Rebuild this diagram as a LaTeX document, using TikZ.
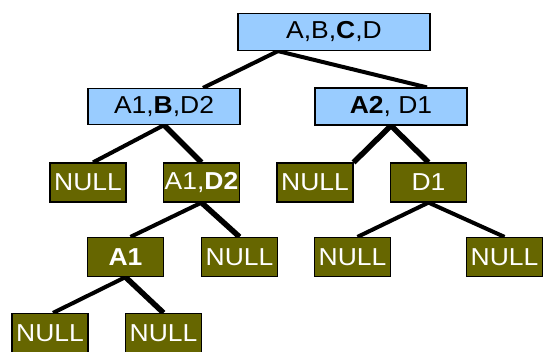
\documentclass[tikz,border=0pt]{standalone}
\usepackage{fontspec}
\setmainfont{Liberation Sans}[FakeStretch=1.08]
\usetikzlibrary{positioning}
\definecolor{boxblue}{HTML}{99CCFF}
\definecolor{boxolive}{HTML}{666600}
\pgfdeclarelayer{bg}
\pgfsetlayers{bg,main}
\tikzset{
  bluebox/.style={draw=black, line width=1.2pt, fill=boxblue, minimum width=#1, minimum height=36pt, inner sep=0pt, font=\fontsize{24.5}{27}\selectfont},
  olivebox/.style={draw=black, line width=1.2pt, fill=boxolive, text=white, minimum width=76pt, minimum height=39pt, inner sep=0pt, font=\fontsize{24.5}{27}\selectfont},
  edge/.style={line width=4pt, black},
  thickedge/.style={line width=5.5pt, black}
}
\begin{document}
\begin{tikzpicture}[x=1pt, y=-1pt]
\useasboundingbox (0,0) rectangle (544,352);
% level 1
\node[bluebox=192pt, minimum height=37pt] (root) at (334,32) {A,B,\textbf{C},D};
% level 2
\node[bluebox=152pt, minimum height=36pt] (L1) at (164,106.5) {A1,\textbf{B},D2};
\node[bluebox=152pt, minimum height=37pt] (R1) at (391,106.5) {\textbf{A2}, D1};
% level 3
\node[olivebox] (N3a) at (88,182.5) {NULL};
\node[olivebox] (A1D2) at (201.5,182.5) {A1,\textbf{D2}};
\node[olivebox] (N3b) at (315,182.5) {NULL};
\node[olivebox] (D1) at (428.5,182.5) {D1};
% level 4
\node[olivebox] (A1) at (125.5,257) {\textbf{A1}};
\node[olivebox] (N4a) at (239.5,257) {NULL};
\node[olivebox] (N4b) at (352.5,257) {NULL};
\node[olivebox] (N4c) at (504.5,257) {NULL};
% level 5
\node[olivebox] (N5a) at (50,333) {NULL};
\node[olivebox] (N5b) at (163.5,333) {NULL};
% connectors
\begin{pgfonlayer}{bg}
\draw[edge] ([xshift=-56pt]root.south) -- ([xshift=39pt]L1.north);
\draw[edge] ([xshift=-56pt]root.south) -- ([xshift=36pt]R1.north);
\draw[edge] (L1.south) -- ([xshift=5pt]N3a.north);
\draw[thickedge] (L1.south) -- (A1D2.north);
\draw[thickedge] (R1.south) -- (N3b.north east);
\draw[thickedge] (R1.south) -- (D1.north);
\draw[edge] (A1D2.south) -- ([xshift=5pt]A1.north);
\draw[thickedge] (A1D2.south) -- (N4a.north);
\draw[edge] (D1.south) -- ([xshift=5pt]N4b.north);
\draw[edge] (D1.south) -- (N4c.north);
\draw[edge] (A1.south) -- ([xshift=3pt]N5a.north);
\draw[thickedge] (A1.south) -- (N5b.north);
\end{pgfonlayer}
\end{tikzpicture}
\end{document}
